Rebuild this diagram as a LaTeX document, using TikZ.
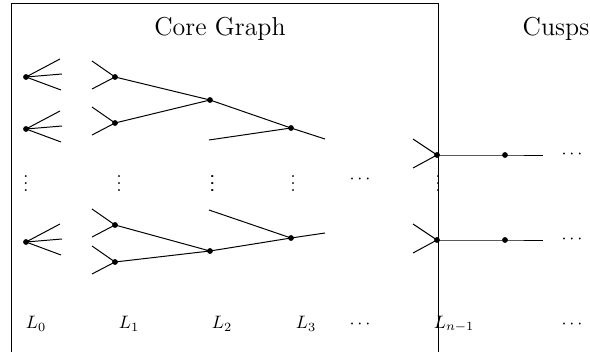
\documentclass[tikz,border=0pt]{standalone}
\begin{document}
\begin{tikzpicture}[x=0.5556pt,y=-0.5556pt,
  dot/.style={circle,fill=black,inner sep=0pt,minimum size=3.2pt},
  edge/.style={line width=0.55pt},
  lab/.style={inner sep=0pt}]
\useasboundingbox (0,0) rectangle (590,352);
% frame
\draw[edge] (11,352) -- (11,3) -- (438,3) -- (438,352);
\node[lab] (title1) at (220,29) {\Large Core Graph};
\node[lab] (title2) at (556,29) {\Large Cusps};
% L0 column
\node[dot] (a1) at (26,77) {};
\node[dot] (a2) at (26,129) {};
\node[dot] (a3) at (26,242) {};
\foreach \n/\y in {a1/77,a2/129,a3/242}{
  \coordinate (\n u) at (60,\y-18);
  \coordinate (\n m) at (62,\y-3);
  \coordinate (\n d) at (61,\y+13);
  \draw[edge] (\n u) -- (\n.center) -- (\n d);
  \draw[edge] (\n.center) -- (\n m);
}
% L1 column
\node[dot] (b1) at (115,77) {};
\node[dot] (b2) at (115,123) {};
\node[dot] (b3) at (115,225) {};
\node[dot] (b4) at (115,262) {};
\foreach \n/\y in {b1/77,b2/123,b3/225,b4/262}{
  \coordinate (\n u) at (92,\y-16);
  \coordinate (\n d) at (92,\y+12);
  \draw[edge] (\n u) -- (\n.center) -- (\n d);
}
% L2 column
\node[dot] (c1) at (210,100) {};
\node[dot] (c2) at (210,251) {};
\coordinate (c1s) at (209,140);
\coordinate (c2s) at (209,210);
\draw[edge] (b1.center) -- (c1.center) -- (b2.center);
\draw[edge] (b3.center) -- (c2.center) -- (b4.center);
% L3 column
\node[dot] (d1) at (291,128) {};
\node[dot] (d2) at (291,238) {};
\coordinate (d1e) at (325,139);
\coordinate (d2e) at (325,233);
\draw[edge] (c1.center) -- (d1.center) -- (d1e);
\draw[edge] (c1s) -- (d1.center);
\draw[edge] (c2s) -- (d2.center);
\draw[edge] (c2.center) -- (d2.center) -- (d2e);
% L_{n-1} and cusps
\node[dot] (e1) at (437,155) {};
\node[dot] (e2) at (437,240) {};
\node[dot] (f1) at (505,155) {};
\node[dot] (f2) at (505,240) {};
\foreach \n/\y in {e1/155,e2/240}{
  \coordinate (\n u) at (413,\y-16);
  \coordinate (\n d) at (413,\y+13);
  \draw[edge] (\n u) -- (\n.center) -- (\n d);
}
\coordinate (g1) at (543,155);
\coordinate (g2) at (543,240);
\draw[edge] (e1.center) -- (f1.center) -- (g1);
\draw[edge] (e2.center) -- (f2.center) -- (g2);
\node[lab] (h1) at (572,155) {$\cdots$};
\node[lab] (h2) at (572,240) {$\cdots$};
% vdots row
\node[lab] (v0) at (26,178) {$\vdots$};
\node[lab] (v1) at (119,178) {$\vdots$};
\node[lab] (v2) at (212,178) {$\vdots$};
\node[lab] (v2b) at (212.6,178) {$\vdots$};
\node[lab] (v3) at (293,178) {$\vdots$};
\node[lab] (v4) at (360,180) {$\cdots$};
\node[lab] (v5) at (438,178) {$\vdots$};
% labels
\node[lab] (l0) at (36,324) {$L_0$};
\node[lab] (l1) at (129,324) {$L_1$};
\node[lab] (l2) at (222,324) {$L_2$};
\node[lab] (l3) at (306,324) {$L_3$};
\node[lab] (l4) at (360,324) {$\cdots$};
\node[lab] (l5) at (454,324) {$L_{n-1}$};
\node[lab] (l6) at (572,324) {$\cdots$};
\end{tikzpicture}
\end{document}
